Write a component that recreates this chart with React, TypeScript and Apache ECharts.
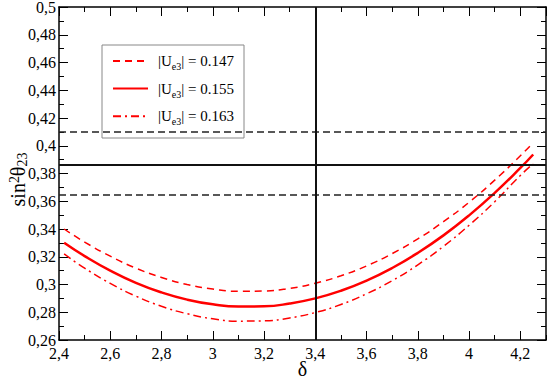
import React, { useEffect, useRef } from "react";
import * as echarts from "echarts";

// δ values where the curves were read
const deltaValues = [2.42, 2.5, 2.6, 2.7, 2.8, 2.9, 3.0, 3.1, 3.2, 3.3, 3.4, 3.5, 3.6, 3.7, 3.8, 3.9, 4.0, 4.1, 4.2, 4.25];
// sin^2 θ23 for |Ue3| = 0.147 (dashed)
const sin2Ue3_147 = [0.340, 0.3306, 0.3204, 0.3118, 0.3051, 0.3000, 0.2967, 0.2951, 0.2953, 0.2972, 0.3009, 0.3063, 0.3134, 0.3223, 0.3329, 0.3453, 0.3593, 0.3752, 0.3928, 0.4022];
// |Ue3| = 0.155 (solid)
const sin2Ue3_155 = [0.3301, 0.3205, 0.3100, 0.3012, 0.2943, 0.2891, 0.2857, 0.2841, 0.2843, 0.2863, 0.2900, 0.2955, 0.3028, 0.3119, 0.3228, 0.3354, 0.3498, 0.3660, 0.3840, 0.3937];
// |Ue3| = 0.163 (dash-dot)
const sin2Ue3_163 = [0.3220, 0.3118, 0.3008, 0.2916, 0.2843, 0.2789, 0.2753, 0.2736, 0.2738, 0.2759, 0.2798, 0.2856, 0.2933, 0.3028, 0.3142, 0.3275, 0.3427, 0.3597, 0.3786, 0.3870];

const ue3Labels = ["0.147", "0.155", "0.163"];
const dashedRefLines = [0.41, 0.365];
const solidRefLine = 0.386;
const verticalRefLine = 3.4;

const FONT = "Liberation Serif";
const fmt = (v: number) => String(+v.toFixed(2)).replace(".", ",");

export default function App() {
  const ref = useRef<HTMLDivElement>(null);
  useEffect(() => {
    if (!ref.current) return;
    const chart = echarts.init(ref.current, null, { renderer: "svg" });
    const pairs = (ys: number[]) => deltaValues.map((x, i) => [x, ys[i]]);
    const red = "#ff0000";
    const xBase = {
      type: "value" as const,
      min: 2.4,
      max: 4.3,
      splitLine: { show: false },
    };
    const yBase = {
      type: "value" as const,
      min: 0.26,
      max: 0.5,
      interval: 0.02,
      splitLine: { show: false },
    };
    const axisLine = { show: true, onZero: false, lineStyle: { color: "#000", width: 1.5 } };
    const majorTick = { show: true, inside: true, length: 9, lineStyle: { color: "#000", width: 1 } };
    const minorTickAxis = { show: true, inside: true, length: 5, lineStyle: { color: "#000", width: 1 } };
    const option: any = {
      animation: false,
      textStyle: { fontFamily: FONT },
      grid: { left: 59, top: 7, right: 1, bottom: 39, containLabel: false, outerBoundsMode: "none" },
      xAxis: [
        {
          ...xBase,
          position: "bottom",
          interval: 0.2,
          axisLine,
          axisTick: majorTick,
          axisLabel: {
            formatter: fmt,
            showMaxLabel: false,
            fontFamily: FONT,
            fontSize: 16,
            color: "#000",
            margin: 5,
          },
          name: "δ",
          nameLocation: "middle",
          nameGap: 20,
          nameMoveOverlap: false,
          nameTextStyle: { fontFamily: FONT, fontSize: 20, lineHeight: 18, color: "#000" },
        },
        {
          ...xBase,
          position: "bottom",
          interval: 0.1,
          axisLine: { show: false, onZero: false },
          axisTick: minorTickAxis,
          axisLabel: { show: false },
        },
        {
          ...xBase,
          position: "top",
          interval: 0.2,
          axisLine,
          axisTick: majorTick,
          axisLabel: { show: false },
        },
        {
          ...xBase,
          position: "top",
          interval: 0.1,
          axisLine: { show: false, onZero: false },
          axisTick: minorTickAxis,
          axisLabel: { show: false },
        },
      ],
      yAxis: [
        {
          ...yBase,
          position: "left",
          axisLine,
          axisTick: majorTick,
          minorTick: { show: true, splitNumber: 2, length: 5, lineStyle: { color: "#000", width: 1 } },
          axisLabel: { formatter: fmt, fontFamily: FONT, fontSize: 16, color: "#000", margin: 3 },
          name: "{m|sin}{sup|2}{m|θ}{sub|23}",
          nameLocation: "middle",
          nameRotate: 90,
          nameGap: 30,
          nameMoveOverlap: false,
          nameTextStyle: {
            fontFamily: FONT,
            color: "#000",
            padding: [0, 12, 0, 0],
            rich: {
              m: { fontFamily: FONT, fontSize: 20, lineHeight: 22, color: "#000" },
              sup: { fontFamily: FONT, fontSize: 14, lineHeight: 14, verticalAlign: "top", color: "#000" },
              sub: { fontFamily: FONT, fontSize: 14, lineHeight: 14, verticalAlign: "bottom", color: "#000" },
            },
          },
        },
        {
          ...yBase,
          position: "right",
          axisLine,
          axisTick: majorTick,
          minorTick: { show: true, splitNumber: 2, length: 5, lineStyle: { color: "#000", width: 1 } },
          axisLabel: { show: false },
        },
      ],
      legend: {
        data: ue3Labels,
        orient: "vertical",
        left: 112,
        top: 53.5,
        padding: 0,
        itemWidth: 35,
        itemHeight: 12,
        itemGap: 9.6,
        selectedMode: false,
        z: 6,
        itemStyle: { opacity: 0 },
        formatter: (name: string) => `{sp|\u00a0}{t||U}{s|e3}{t|| = ${name}}`,
        textStyle: {
          fontFamily: FONT,
          fontSize: 15,
          color: "#000",
          rich: {
            sp: { width: 5 },
            t: { fontFamily: FONT, fontSize: 15, lineHeight: 21, color: "#000" },
            s: { fontFamily: FONT, fontSize: 10, lineHeight: 10, verticalAlign: "bottom", color: "#000" },
          },
        },
      },
      graphic: [
        {
          type: "rect",
          z: 5,
          shape: { x: 102, y: 45, width: 142, height: 93 },
          style: { fill: "#fff", stroke: "#888", lineWidth: 1 },
        },
      ],
      series: [
        {
          name: ue3Labels[0],
          type: "line",
          data: pairs(sin2Ue3_147),
          smooth: true,
          symbol: "none",
          lineStyle: { color: red, width: 1.5, type: [7, 5] },
          itemStyle: { color: red },
        },
        {
          name: ue3Labels[1],
          type: "line",
          data: pairs(sin2Ue3_155),
          smooth: true,
          symbol: "none",
          lineStyle: { color: red, width: 2.5, type: "solid" },
          itemStyle: { color: red },
        },
        {
          name: ue3Labels[2],
          type: "line",
          data: pairs(sin2Ue3_163),
          smooth: true,
          symbol: "none",
          lineStyle: { color: red, width: 1.5, type: [8, 4, 2, 4] },
          itemStyle: { color: red },
        },
        {
          name: "refs",
          type: "line",
          data: [],
          z: 3,
          symbol: "none",
          markLine: {
            silent: true,
            symbol: "none",
            precision: 4,
            label: { show: false },
            animation: false,
            data: [
              ...dashedRefLines.map((v) => ({
                yAxis: v,
                lineStyle: { color: "#222", width: 1.5, type: [7, 4] },
              })),
              { yAxis: solidRefLine, lineStyle: { color: "#111", width: 2, type: "solid" } },
              { xAxis: verticalRefLine, lineStyle: { color: "#111", width: 2, type: "solid" } },
            ],
          },
        },
      ],
    };
    chart.setOption(option);
    return () => chart.dispose();
  }, []);
  return (
    <div
      ref={ref}
      style={{ position: "absolute", left: 0, top: 0, width: 547, height: 379, background: "#fff" }}
    />
  );
}
